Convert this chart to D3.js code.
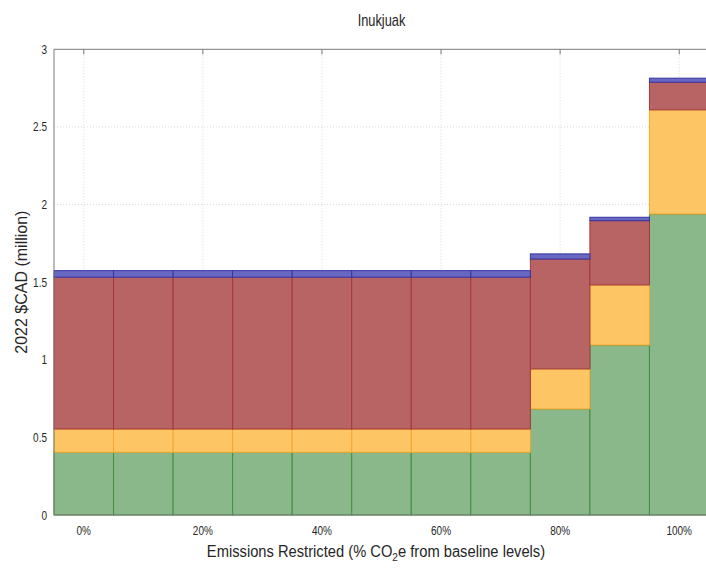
<!DOCTYPE html>
<html>
<head>
<meta charset="utf-8">
<script src="https://cdn.jsdelivr.net/npm/d3@7"></script>
<style>
  body { margin: 0; background: #fff; }
  svg { display: block; }
  text { font-family: "Liberation Sans", Arial, sans-serif; fill: #262626; }
</style>
</head>
<body>
<svg id="chart"></svg>
<script>
// emissions restricted (%) and stacked cost segments, $CAD million
var categories = [0, 10, 20, 30, 40, 50, 60, 70, 80, 90, 100]
var greenSeg  = [0.404, 0.404, 0.404, 0.404, 0.404, 0.404, 0.404, 0.404, 0.683, 1.095, 1.939]
var orangeSeg = [0.150, 0.150, 0.150, 0.150, 0.150, 0.150, 0.150, 0.150, 0.258, 0.387, 0.671]
var redSeg    = [0.978, 0.978, 0.978, 0.978, 0.978, 0.978, 0.978, 0.978, 0.708, 0.414, 0.178]
var blueSeg   = [0.042, 0.042, 0.042, 0.042, 0.042, 0.042, 0.042, 0.042, 0.033, 0.022, 0.026]
var xTicks = [0, 20, 40, 60, 80, 100]
var yTicks = [0, 0.5, 1, 1.5, 2, 2.5, 3]

var width = 706
var height = 570
var plotLeft = 54, plotRight = 709, plotTop = 49.3, plotBottom = 515
var narrow = 0.8

var keys = ['green', 'orange', 'red', 'blue']
var fills = { green: '#8ab88a', orange: '#fdc563', red: '#b86464', blue: '#6868c2' }
var strokes = { green: '#3f8f3f', orange: '#f4a830', red: '#a33a3a', blue: '#3434a4' }

var table = categories.map((c, i) => ({
  cat: c, green: greenSeg[i], orange: orangeSeg[i], red: redSeg[i], blue: blueSeg[i]
}))

var xScale = d3.scaleLinear().domain([-5, 105]).range([plotLeft, plotRight])
var yScale = d3.scaleLinear().domain([0, 3]).range([plotBottom, plotTop])

var svg = d3.select('#chart')
  .attr('width', width)
  .attr('height', height)

// grid
svg.append('g')
  .selectAll('line')
  .data(xTicks)
  .enter()
  .append('line')
    .attr('x1', d => xScale(d)).attr('x2', d => xScale(d))
    .attr('y1', plotTop).attr('y2', plotBottom)
    .attr('stroke', '#dadada')
    .attr('stroke-dasharray', '1,2')

svg.append('g')
  .selectAll('line')
  .data(yTicks.slice(1, -1))
  .enter()
  .append('line')
    .attr('x1', plotLeft).attr('x2', width)
    .attr('y1', d => yScale(d)).attr('y2', d => yScale(d))
    .attr('stroke', '#dadada')
    .attr('stroke-dasharray', '1,2')

var stacked = d3.stack().keys(keys)(table)

svg.append('g')
  .selectAll('g')
  .data(stacked)
  .enter()
  .append('g')
    .attr('fill', d => fills[d.key])
    .attr('stroke', d => strokes[d.key])
  .selectAll('rect')
  .data(d => d)
  .enter()
  .append('rect')
    .attr('x', d => xScale(d.data.cat - 5))
    .attr('width', d => xScale(d.data.cat + 5) - xScale(d.data.cat - 5))
    .attr('y', d => yScale(d[1]))
    .attr('height', d => yScale(d[0]) - yScale(d[1]))
    .attr('stroke-width', 1)

// axes frame
svg.append('line')
  .attr('x1', plotLeft).attr('x2', width).attr('y1', plotTop).attr('y2', plotTop)
  .attr('stroke', '#7a7a7a')
svg.append('line')
  .attr('x1', plotLeft).attr('x2', width).attr('y1', plotBottom).attr('y2', plotBottom)
  .attr('stroke', '#7a7a7a')
svg.append('line')
  .attr('x1', plotLeft).attr('x2', plotLeft).attr('y1', plotTop).attr('y2', plotBottom)
  .attr('stroke', '#7a7a7a')

svg.append('g')
  .selectAll('line')
  .data(xTicks)
  .enter()
  .append('line')
    .attr('x1', d => xScale(d)).attr('x2', d => xScale(d))
    .attr('y1', plotTop).attr('y2', plotTop + 5)
    .attr('stroke', '#7a7a7a')

svg.append('g')
  .selectAll('text')
  .data(xTicks)
  .enter()
  .append('text')
    .attr('transform', d => 'translate(' + xScale(d) + ',535) scale(' + narrow + ',1)')
    .attr('text-anchor', 'middle')
    .attr('font-size', 12.5)
    .text(d => d + '%')

svg.append('g')
  .selectAll('text')
  .data(yTicks)
  .enter()
  .append('text')
    .attr('transform', d => 'translate(' + (plotLeft - 7) + ',' + (yScale(d) + 4.5) + ') scale(' + narrow + ',1)')
    .attr('text-anchor', 'end')
    .attr('font-size', 12.5)
    .text(d => d)

svg.append('text')
  .attr('transform', 'translate(' + ((plotLeft + plotRight) / 2) + ',26) scale(' + narrow + ',1)')
  .attr('text-anchor', 'middle')
  .attr('font-size', 16)
  .text('Inukjuak')

var xLabel = svg.append('text')
  .attr('transform', 'translate(376,557) scale(0.92,1)')
  .attr('text-anchor', 'middle')
  .attr('font-size', 16)
xLabel.append('tspan').text('Emissions Restricted (% CO')
xLabel.append('tspan').attr('dy', 4).attr('font-size', 11).text('2')
xLabel.append('tspan').attr('dy', -4).text('e from baseline levels)')

svg.append('text')
  .attr('transform', 'translate(27,' + ((plotTop + plotBottom) / 2) + ') rotate(-90)')
  .attr('text-anchor', 'middle')
  .attr('font-size', 16)
  .text('2022 $CAD (million)')
</script>
</body>
</html>
